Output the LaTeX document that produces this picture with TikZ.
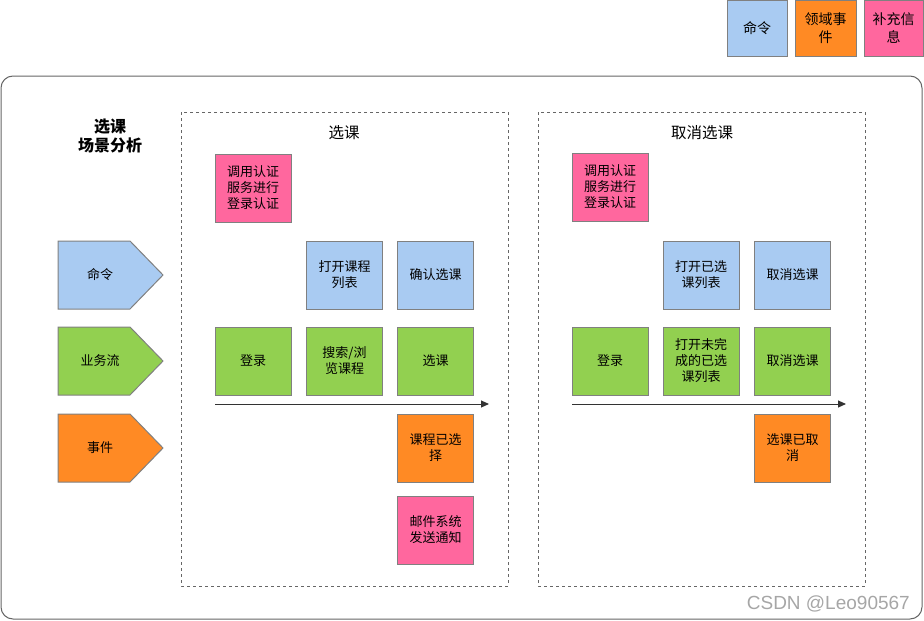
\documentclass[tikz,border=0pt]{standalone}
\usepackage{fontspec}
\setmainfont{Noto Sans CJK SC}
\newfontfamily\wmfont{Liberation Sans}
\usetikzlibrary{arrows.meta}
\definecolor{cmdblue}{HTML}{A9CBF2}
\definecolor{flowgreen}{HTML}{92D050}
\definecolor{evorange}{HTML}{FF8A24}
\definecolor{infopink}{HTML}{FF679E}
\definecolor{bordergray}{HTML}{808080}
\definecolor{framegray}{HTML}{666666}
\tikzset{
  sticky/.style={draw=bordergray, line width=1pt, minimum width=76pt, minimum height=68pt,
    inner sep=0pt, align=center, font=\fontsize{13}{16}\selectfont},
  cmd/.style={sticky, fill=cmdblue},
  flow/.style={sticky, fill=flowgreen},
  evt/.style={sticky, fill=evorange},
  info/.style={sticky, fill=infopink},
  legend/.style={draw=bordergray, line width=1pt, minimum width=60pt, minimum height=56pt,
    inner sep=0pt, align=center, font=\fontsize{14}{18}\selectfont},
  panel/.style={draw=framegray, line width=0.8pt, dash pattern=on 3pt off 3pt},
  pent/.style={draw=bordergray, line width=1pt},
  timeline/.style={draw=black!80, line width=1pt, -{Triangle[length=8pt,width=7pt]}},
  lbl/.style={font=\fontsize{13}{16}\selectfont}
}
\begin{document}
\begin{tikzpicture}[x=1pt,y=-1pt]
\useasboundingbox (0,0) rectangle (924,621);
% legend
\node[legend, fill=cmdblue] (lg1) at (757,28) {命令};
\node[legend, fill=evorange, minimum width=61pt] (lg2) at (825.5,28) {领域事\\件};
\node[legend, fill=infopink, minimum width=59pt] (lg3) at (893.5,28) {补充信\\息};
% outer frame
\draw[framegray, line width=1pt, rounded corners=12pt] (1,76) rectangle (922,619);
% title
\node[font=\bfseries\fontsize{16}{19}\selectfont, align=center] (title) at (110,136) {选课\\场景分析};
% pentagons
\draw[pent, fill=cmdblue] (58,241) -- (130,241) -- (163,275) -- (130,309) -- (58,309) -- cycle;
\node[lbl] (pc) at (100,275) {命令};
\draw[pent, fill=flowgreen] (58,327) -- (130,327) -- (163,361) -- (130,395) -- (58,395) -- cycle;
\node[lbl] (pf) at (100,361) {业务流};
\draw[pent, fill=evorange] (58,414) -- (130,414) -- (163,448) -- (130,482) -- (58,482) -- cycle;
\node[lbl] (pe) at (100,448) {事件};
% panel 1
\draw[panel] (181,112) rectangle (508,586);
\node[font=\fontsize{15.5}{18}\selectfont] (t1) at (344,133) {选课};
\node[info] (a1) at (253,188) {调用认证\\服务进行\\登录认证};
\node[cmd] (a2) at (344.5,275) {打开课程\\列表};
\node[cmd] (a3) at (435.5,275) {确认选课};
\node[flow] (a4) at (253,361) {登录};
\node[flow] (a5) at (344.5,361) {搜索/浏\\览课程};
\node[flow] (a6) at (435.5,361) {选课};
\coordinate (s1) at (215,404);
\coordinate (e1) at (489,404);
\draw[timeline] (s1) -- (e1);
\node[evt] (a7) at (435.5,448) {课程已选\\择};
\node[info] (a8) at (435.5,530) {邮件系统\\发送通知};
% panel 2
\draw[panel] (538,112) rectangle (865,586);
\node[font=\fontsize{15.5}{18}\selectfont] (t2) at (702,133) {取消选课};
\node[info] (b1) at (610,187) {调用认证\\服务进行\\登录认证};
\node[cmd] (b2) at (701,275) {打开已选\\课列表};
\node[cmd] (b3) at (792.5,275) {取消选课};
\node[flow] (b4) at (610,361) {登录};
\node[flow] (b5) at (701,361) {打开未完\\成的已选\\课列表};
\node[flow] (b6) at (792.5,361) {取消选课};
\coordinate (s2) at (572,404);
\coordinate (e2) at (846,404);
\draw[timeline] (s2) -- (e2);
\node[evt] (b7) at (792.5,448) {选课已取\\消};
% watermark
\node[font=\wmfont\fontsize{19}{20}\selectfont, text=black!35, anchor=east, inner sep=0pt] (wm) at (910,604) {CSDN @Leo90567};
\end{tikzpicture}
\end{document}
